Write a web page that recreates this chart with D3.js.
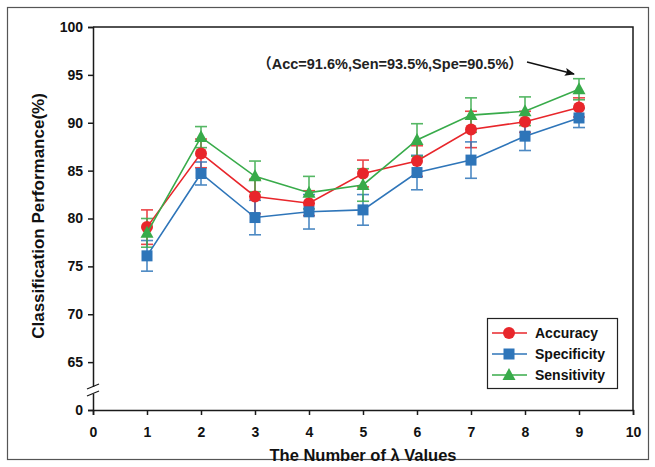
<!DOCTYPE html>
<html>
<head>
<meta charset="utf-8">
<script src="https://cdn.jsdelivr.net/npm/d3@7"></script>
<style>
  body { margin: 0; background: #fff; }
  svg { display: block; font-family: "Liberation Sans", Arial, sans-serif; }
</style>
</head>
<body>
<svg id="chart" width="655" height="467"></svg>
<script>
// data
var lambdas = [1, 2, 3, 4, 5, 6, 7, 8, 9];
var accuracy = [79.1, 86.8, 82.3, 81.6, 84.7, 86.0, 89.3, 90.1, 91.6];
var accuracyErr = [1.8, 1.5, 1.8, 1.3, 1.4, 1.6, 1.9, 1.1, 1.0];
var specificity = [76.1, 84.7, 80.1, 80.7, 80.9, 84.8, 86.1, 88.6, 90.5];
var specificityErr = [1.6, 1.2, 1.8, 1.8, 1.6, 1.8, 1.9, 1.5, 1.0];
var sensitivity = [78.5, 88.5, 84.4, 82.7, 83.5, 88.2, 90.8, 91.2, 93.5];
var sensitivityErr = [1.5, 1.1, 1.6, 1.7, 1.7, 1.7, 1.8, 1.5, 1.1];
var xTickValues = [0, 1, 2, 3, 4, 5, 6, 7, 8, 9, 10];
var yTickValues = [60, 65, 70, 75, 80, 85, 90, 95, 100];
var yTickLabels = ["0", "65", "70", "75", "80", "85", "90", "95", "100"];
var annotation = "（Acc=91.6%,Sen=93.5%,Spe=90.5%）";

(function () {
  "use strict";

  var series = [
    { name: "Accuracy", values: accuracy, err: accuracyErr, color: "#e8262b", shape: "circle" },
    { name: "Specificity", values: specificity, err: specificityErr, color: "#2e75b9", shape: "square" },
    { name: "Sensitivity", values: sensitivity, err: sensitivityErr, color: "#38ab4a", shape: "triangle" }
  ];

  var svg = d3.select("#chart");
  var pLeft = 93, pRight = 633, pTop = 27, pBottom = 410;
  var axisColor = "#1a1a1a";

  // outer frame
  svg.append("rect")
    .attr("x", 7.5).attr("y", 7.5)
    .attr("width", 641).attr("height", 452)
    .attr("fill", "none").attr("stroke", "#555").attr("stroke-width", 1.2);

  var x = d3.scaleLinear().domain([0, 10]).range([pLeft, pRight]);
  var y = d3.scaleLinear().domain([60, 100]).range([pBottom, pTop]);

  // box top + right
  svg.append("path")
    .attr("d", "M" + pLeft + "," + pTop + "H" + pRight + "V" + pBottom)
    .attr("fill", "none").attr("stroke", axisColor).attr("stroke-width", 1.5);

  var xAxis = svg.append("g")
    .attr("transform", "translate(0," + pBottom + ")")
    .call(d3.axisBottom(x).tickValues(xTickValues).tickSize(5).tickPadding(12).tickFormat(d3.format("d")));
  var yAxis = svg.append("g")
    .attr("transform", "translate(" + pLeft + ",0)")
    .call(d3.axisLeft(y).tickValues(yTickValues).tickSize(5).tickPadding(5)
      .tickFormat(function (d, i) { return yTickLabels[i]; }));

  [xAxis, yAxis].forEach(function (g) {
    g.select(".domain").attr("stroke", axisColor).attr("stroke-width", 1.5);
    g.selectAll(".tick line").attr("stroke", axisColor).attr("stroke-width", 1.5);
    g.selectAll(".tick text").attr("fill", "#111").attr("font-size", 14).attr("font-weight", "bold");
  });

  // axis break on y
  svg.append("rect").attr("x", pLeft - 4).attr("y", 387).attr("width", 8).attr("height", 7).attr("fill", "#fff");
  [386, 393].forEach(function (yy) {
    svg.append("line")
      .attr("x1", pLeft - 6).attr("y1", yy + 3)
      .attr("x2", pLeft + 6).attr("y2", yy - 2)
      .attr("stroke", axisColor).attr("stroke-width", 1.3);
  });

  // axis titles
  svg.append("text")
    .attr("x", (pLeft + pRight) / 2).attr("y", 461)
    .attr("text-anchor", "middle")
    .attr("font-size", 16.5).attr("font-weight", "bold").attr("fill", "#111")
    .text("The Number of λ Values");
  svg.append("text")
    .attr("transform", "translate(44,216) rotate(-90)")
    .attr("text-anchor", "middle")
    .attr("font-size", 17).attr("font-weight", "bold").attr("fill", "#111")
    .text("Classification Performance(%)");

  function drawMarker(g, shape, color) {
    if (shape === "circle") {
      g.append("circle").attr("r", 6).attr("fill", color);
    } else if (shape === "square") {
      g.append("rect").attr("x", -5.5).attr("y", -5.5).attr("width", 11).attr("height", 11).attr("fill", color);
    } else {
      g.append("path").attr("d", "M0,-7L6.5,5L-6.5,5Z").attr("fill", color);
    }
  }

  var line = d3.line()
    .x(function (d, i) { return x(lambdas[i]); })
    .y(function (d) { return y(d); });

  // error bars first
  series.forEach(function (s) {
    var g = svg.append("g").attr("stroke", s.color).attr("stroke-width", 1.6).attr("opacity", 0.85);
    s.values.forEach(function (v, i) {
      var cx = x(lambdas[i]), y0 = y(v - s.err[i]), y1 = y(v + s.err[i]);
      g.append("line").attr("x1", cx).attr("x2", cx).attr("y1", y0).attr("y2", y1);
      g.append("line").attr("x1", cx - 6).attr("x2", cx + 6).attr("y1", y0).attr("y2", y0);
      g.append("line").attr("x1", cx - 6).attr("x2", cx + 6).attr("y1", y1).attr("y2", y1);
    });
  });

  series.forEach(function (s) {
    svg.append("path").datum(s.values)
      .attr("d", line).attr("fill", "none")
      .attr("stroke", s.color).attr("stroke-width", 1.6);
    s.values.forEach(function (v, i) {
      var g = svg.append("g").attr("transform", "translate(" + x(lambdas[i]) + "," + y(v) + ")");
      drawMarker(g, s.shape, s.color);
    });
  });

  // annotation + arrow
  svg.append("defs").append("marker")
    .attr("id", "arrow").attr("viewBox", "0 0 10 10")
    .attr("refX", 9).attr("refY", 5)
    .attr("markerWidth", 10).attr("markerHeight", 10)
    .attr("markerUnits", "userSpaceOnUse")
    .attr("orient", "auto")
    .append("path").attr("d", "M0,1L10,5L0,9L2,5Z").attr("fill", "#111");
  svg.append("text")
    .attr("x", 390).attr("y", 69)
    .attr("text-anchor", "middle")
    .attr("font-family", "'Liberation Sans', 'Noto Sans CJK SC', sans-serif")
    .attr("font-size", 14.5).attr("font-weight", "bold").attr("fill", "#222")
    .text(annotation);
  svg.append("line")
    .attr("x1", 527).attr("y1", 62).attr("x2", 574).attr("y2", 74)
    .attr("stroke", "#111").attr("stroke-width", 1.4)
    .attr("marker-end", "url(#arrow)");

  // legend
  var legend = svg.append("g").attr("transform", "translate(487,318)");
  legend.append("rect").attr("x", 0.5).attr("y", 0.5).attr("width", 130).attr("height", 70)
    .attr("fill", "#fff").attr("stroke", "#222").attr("stroke-width", 1.2);
  series.forEach(function (s, i) {
    var row = legend.append("g").attr("transform", "translate(0," + (15 + i * 21) + ")");
    row.append("line").attr("x1", 5).attr("x2", 40).attr("stroke", s.color).attr("stroke-width", 1.6);
    drawMarker(row.append("g").attr("transform", "translate(22,0)"), s.shape, s.color);
    row.append("text").attr("x", 48).attr("y", 5)
      .attr("font-size", 14).attr("font-weight", "bold").attr("fill", "#111")
      .text(s.name);
  });
}());
</script>
</body>
</html>
